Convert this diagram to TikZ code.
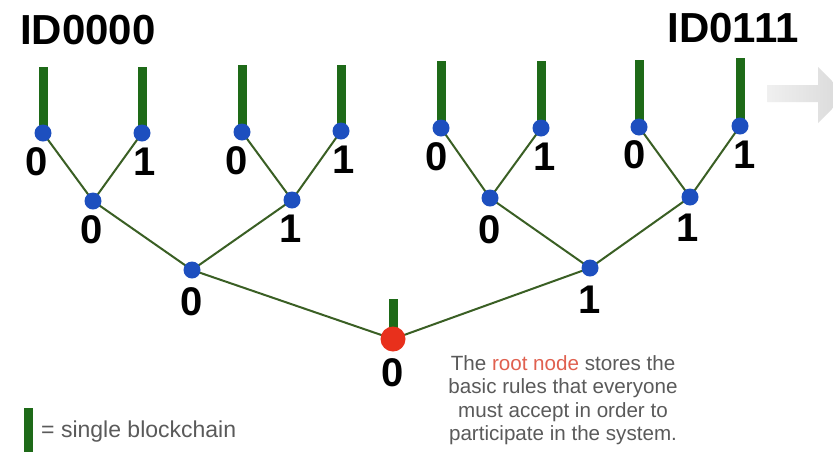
\documentclass[tikz,border=0pt]{standalone}
\usepackage{fontspec}
\setmainfont{Liberation Sans}
\usetikzlibrary{backgrounds}
\definecolor{edgegreen}{HTML}{3A5F24}
\definecolor{bargreen}{HTML}{1E6A18}
\definecolor{nodeblue}{HTML}{1D4FBF}
\definecolor{rootred}{HTML}{E8301C}
\definecolor{txtgray}{HTML}{5A5A5A}
\definecolor{rootword}{HTML}{E0604F}
\tikzset{
  bnode/.style={circle,fill=nodeblue,minimum size=17pt,inner sep=0pt},
  rnode/.style={circle,fill=rootred,minimum size=25pt,inner sep=0pt},
  digit/.style={inner sep=0pt,font=\fontsize{40}{40}\selectfont\bfseries},
  idlabel/.style={inner sep=0pt,font=\fontsize{42}{42}\selectfont\bfseries},
  edge/.style={draw=edgegreen,line width=2pt},
  chain/.style={draw=bargreen,line width=9pt},
  note/.style={inner sep=0pt,text=txtgray,align=center,font=\fontsize{20.6}{23.5}\selectfont},
  legendtext/.style={inner sep=0pt,text=txtgray,font=\fontsize{23}{23}\selectfont},
}
\begin{document}
\begin{tikzpicture}[x=1pt,y=-1pt]
\clip (0,0) rectangle (833,456);
% leaves
\node[bnode] (l1) at (43,133) {};
\node[bnode] (l2) at (142,133) {};
\node[bnode] (l3) at (242,132) {};
\node[bnode] (l4) at (341,131) {};
\node[bnode] (l5) at (441,128) {};
\node[bnode] (l6) at (541,128) {};
\node[bnode] (l7) at (639,127) {};
\node[bnode] (l8) at (740,126) {};
% level 2
\node[bnode] (m1) at (93,201) {};
\node[bnode] (m2) at (292,200) {};
\node[bnode] (m3) at (490,198) {};
\node[bnode] (m4) at (690,197) {};
% level 3
\node[bnode] (n1) at (192,270) {};
\node[bnode] (n2) at (590,268) {};
% root
\node[rnode] (root) at (393,339) {};
% chain tops
\coordinate (t1) at (43,67);
\coordinate (t2) at (142,67);
\coordinate (t3) at (242,65);
\coordinate (t4) at (341,65);
\coordinate (t5) at (441,61);
\coordinate (t6) at (541,61);
\coordinate (t7) at (639,60);
\coordinate (t8) at (740,58);
\coordinate (tr) at (393,299);
\begin{scope}[on background layer]
\fill[white] (0,0) rectangle (833,456);
\foreach \i in {1,...,8} \draw[chain] (t\i) -- (l\i.center);
\draw[chain] (tr) -- (root.center);
\draw[edge] (l1.center) -- (m1.center) -- (l2.center);
\draw[edge] (l3.center) -- (m2.center) -- (l4.center);
\draw[edge] (l5.center) -- (m3.center) -- (l6.center);
\draw[edge] (l7.center) -- (m4.center) -- (l8.center);
\draw[edge] (m1.center) -- (n1.center) -- (m2.center);
\draw[edge] (m3.center) -- (n2.center) -- (m4.center);
\draw[edge] (n1.center) -- (root.center) -- (n2.center);
\end{scope}
% digit labels
\node[digit] (d1) at (37,162) {0};
\node[digit] (d2) at (145,162) {1};
\node[digit] (d3) at (237,161) {0};
\node[digit] (d4) at (344,160) {1};
\node[digit] (d5) at (437,157) {0};
\node[digit] (d6) at (545,157) {1};
\node[digit] (d7) at (635,155) {0};
\node[digit] (d8) at (745,155) {1};
\node[digit] (e1) at (92,230) {0};
\node[digit] (e2) at (291,229) {1};
\node[digit] (e3) at (490,230) {0};
\node[digit] (e4) at (688,228) {1};
\node[digit] (f1) at (192,302) {0};
\node[digit] (f2) at (590,300) {1};
\node[digit] (rl) at (393,373) {0};
% ID labels
\node[idlabel] (id0) at (88,30) {ID0000};
\node[idlabel] (id7) at (733,28) {ID0111};
% arrow
\path[left color=gray!12,right color=gray!30]
  (767,85) -- (818,85) -- (818,67) -- (846,95) -- (818,123) -- (818,102) -- (767,102) -- cycle;
% note
\node[note] (txt) at (563,400) {The \textcolor{rootword}{root node} stores the\\basic rules that everyone\\must accept in order to\\participate in the system.};
% legend
\coordinate (lgtop) at (28,408);
\coordinate (lgbot) at (28,452);
\draw[chain] (lgtop) -- (lgbot);
\node[legendtext,anchor=west] (lg) at (41,432) {= single blockchain};
\end{tikzpicture}
\end{document}
